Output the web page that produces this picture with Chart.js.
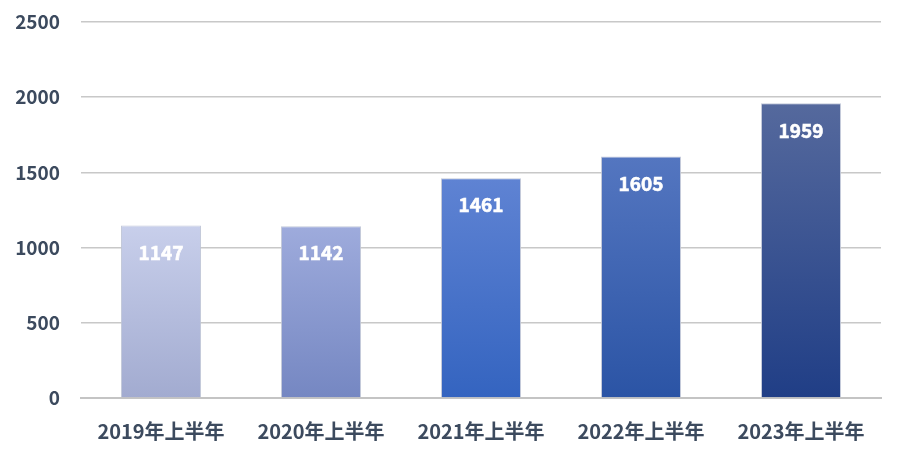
<!DOCTYPE html>
<html><head><meta charset="utf-8">
<script src="https://cdn.jsdelivr.net/npm/chart.js@4"></script>
<style>html,body{margin:0;padding:0;background:#fff}#wrap{width:900px;height:461px}</style>
</head><body><div id="wrap"><canvas id="c" width="900" height="461"></canvas></div>
<script>
const categories = ["2019年上半年","2020年上半年","2021年上半年","2022年上半年","2023年上半年"];
const values = [1147, 1142, 1461, 1605, 1959];
const yTicks = [0, 500, 1000, 1500, 2000, 2500];
const topColors = ["#c8cfeb","#9eabdc","#5f83d3","#5476c0","#55699d"];
const bottomColors = ["#a2abd0","#7587c2","#3464c0","#2b54a5","#203e86"];

const FONT = "'Noto Sans CJK SC','Noto Sans',sans-serif";

const labelPlugin = {
  id: 'vlabels',
  afterDatasetsDraw(chart) {
    const ctx = chart.ctx;
    const meta = chart.getDatasetMeta(0);
    ctx.save();
    ctx.fillStyle = '#ffffff';
    ctx.strokeStyle = '#ffffff';
    ctx.lineWidth = 0.6;
    ctx.font = "bold 19px " + FONT;
    ctx.textAlign = 'center';
    ctx.textBaseline = 'middle';
    meta.data.forEach((bar, i) => {
      ctx.fillText(String(values[i]), bar.x, bar.y + 27);
      ctx.strokeText(String(values[i]), bar.x, bar.y + 27);
    });
    ctx.restore();
  }
};

new Chart(document.getElementById('c'), {
  type: 'bar',
  data: {
    labels: categories,
    datasets: [{
      data: values,
      backgroundColor(ctx) {
        const chart = ctx.chart;
        const area = chart.chartArea;
        const ys = chart.scales && chart.scales.y;
        if (!area || !ys) return topColors[ctx.dataIndex];
        const top = ys.getPixelForValue(values[ctx.dataIndex]);
        const g = chart.ctx.createLinearGradient(0, top, 0, area.bottom);
        g.addColorStop(0, topColors[ctx.dataIndex]);
        g.addColorStop(1, bottomColors[ctx.dataIndex]);
        return g;
      },
      borderColor: 'rgba(190,196,214,0.9)',
      borderWidth: 1,
      borderSkipped: 'bottom',
      categoryPercentage: 1,
      barPercentage: 0.5
    }]
  },
  options: {
    responsive: false,
    animation: false,
    layout: { padding: { top: 22, right: 19, left: 0, bottom: 0 } },
    plugins: { legend: { display: false }, tooltip: { enabled: false } },
    scales: {
      x: {
        grid: { display: false, drawTicks: false },
        border: { display: true, color: '#c4c4c4', width: 2 },
        ticks: { color: '#3c4a5e', font: { family: FONT, size: 20, weight: 'bold' }, padding: 21 },
        afterFit(s) { s.height = 63; s.paddingLeft = 0; s.paddingRight = 0; }
      },
      y: {
        min: 0, max: 2500,
        afterBuildTicks(s) { s.ticks = yTicks.map(v => ({ value: v })); },
        grid: { color: '#c8c8c8', lineWidth: 1.5, drawTicks: false },
        border: { display: false },
        ticks: { color: '#3c4a5e', font: { family: FONT, size: 19, weight: 'bold' }, padding: 21,
                 callback: v => String(v) },
        afterFit(s) { s.width = 81; s.paddingTop = 0; s.paddingBottom = 0; }
      }
    }
  },
  plugins: [labelPlugin]
});
</script></body></html>
